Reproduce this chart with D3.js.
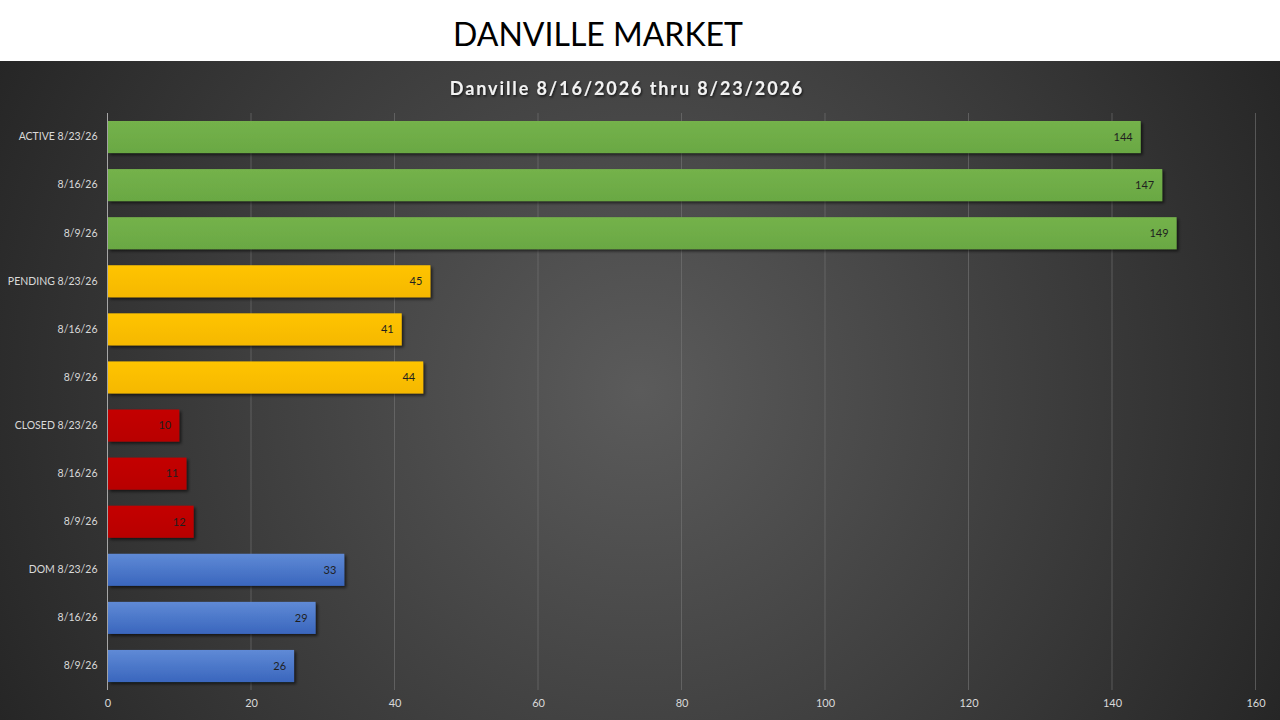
<!DOCTYPE html>
<html lang="en">
<head>
<meta charset="UTF-8">
<title>Danville Market</title>
<style>
  * { margin: 0; padding: 0; }
  body { background: #fff; width: 1280px; height: 720px; overflow: hidden; }
  svg { display: block; font-family: Lato, "Open Sans", sans-serif; }
</style>
</head>
<body>
<div id="chart"></div>
<script src="https://cdn.jsdelivr.net/npm/d3@7"></script>
<script>
  // data
  const labels = ['ACTIVE 8/23/26', '8/16/26', '8/9/26',
    'PENDING 8/23/26', '8/16/26', '8/9/26',
    'CLOSED 8/23/26', '8/16/26', '8/9/26',
    'DOM 8/23/26', '8/16/26', '8/9/26']
  const values = [144, 147, 149, 45, 41, 44, 10, 11, 12, 33, 29, 26]
  const groups = ['active', 'active', 'active', 'pending', 'pending', 'pending',
    'closed', 'closed', 'closed', 'dom', 'dom', 'dom']
  const xTicks = [0, 20, 40, 60, 80, 100, 120, 140, 160]

  const W = 1280, H = 720
  const PANEL_TOP = 61
  const MARGIN = {LEFT: 108, RIGHT: 24, TOP: 113, BOTTOM: 30}

  const svg = d3.select('#chart').append('svg')
    .attr('width', W).attr('height', H)

  const defs = svg.append('defs')
  const bg = defs.append('radialGradient').attr('id', 'bg')
    .attr('gradientUnits', 'userSpaceOnUse')
    .attr('cx', 640).attr('cy', 390).attr('r', 720)
  bg.append('stop').attr('offset', '0%').attr('stop-color', '#5b5b5b')
  bg.append('stop').attr('offset', '100%').attr('stop-color', '#262626')

  const colorMap = {
    active: ['#74b24b', '#6aa843'],
    pending: ['#ffc405', '#f5b800'],
    closed: ['#c40000', '#b80000'],
    dom: ['#5f8ad6', '#3a66bd']
  }
  Object.keys(colorMap).forEach(k => {
    const lg = defs.append('linearGradient').attr('id', 'g-' + k)
      .attr('x1', 0).attr('y1', 0).attr('x2', 0).attr('y2', 1)
    lg.append('stop').attr('offset', '0%').attr('stop-color', colorMap[k][0])
    lg.append('stop').attr('offset', '100%').attr('stop-color', colorMap[k][1])
  })

  const shadow = defs.append('filter').attr('id', 'shadow')
    .attr('x', '-5%').attr('y', '-20%').attr('width', '115%').attr('height', '160%')
  shadow.append('feDropShadow').attr('dx', 2).attr('dy', 2).attr('stdDeviation', 1.5)
    .attr('flood-color', '#000').attr('flood-opacity', 0.6)

  const tShadow = defs.append('filter').attr('id', 'tshadow')
  tShadow.append('feDropShadow').attr('dx', 1).attr('dy', 1.5).attr('stdDeviation', 1)
    .attr('flood-color', '#000').attr('flood-opacity', 0.7)

  // white header
  svg.append('rect').attr('width', W).attr('height', PANEL_TOP).attr('fill', '#fff')
  svg.append('text')
    .attr('x', 598).attr('y', 46)
    .attr('text-anchor', 'middle')
    .attr('font-size', '32px')
    .attr('font-weight', 400)
    .attr('fill', '#000')
    .text('DANVILLE MARKET')

  // dark panel
  svg.append('rect').attr('y', PANEL_TOP).attr('width', W).attr('height', H - PANEL_TOP)
    .attr('fill', 'url(#bg)')

  svg.append('text')
    .attr('x', 627).attr('y', 95)
    .attr('text-anchor', 'middle')
    .attr('font-size', '18px')
    .attr('font-weight', 700)
    .attr('letter-spacing', '1.9px')
    .attr('fill', '#f2f2f2')
    .attr('filter', 'url(#tshadow)')
    .text('Danville 8/16/2026 thru 8/23/2026')

  const plotBottom = 690
  const x = d3.scaleLinear().domain([0, 160]).range([MARGIN.LEFT - 0.5, 1255.5])
  const idx = d3.range(labels.length)
  const y = d3.scaleBand().domain(idx).range([MARGIN.TOP, plotBottom])
    .paddingInner(0.333).paddingOuter(0.166)

  // grid
  svg.append('g').selectAll('line').data(xTicks.slice(1)).join('line')
    .attr('x1', d => x(d)).attr('x2', d => x(d))
    .attr('y1', MARGIN.TOP).attr('y2', plotBottom)
    .attr('stroke', '#767676').attr('stroke-width', 1).attr('stroke-opacity', 0.6)

  // x axis
  const xAxis = svg.append('g')
    .attr('transform', `translate(0, ${plotBottom})`)
    .call(d3.axisBottom(x).tickValues(xTicks).tickSize(0).tickPadding(9))
  xAxis.select('.domain').remove()
  xAxis.selectAll('text').attr('fill', '#d9d9d9').attr('font-size', '11px')
    .attr('font-family', 'Lato, "Open Sans", sans-serif')

  // y axis
  const yAxis = svg.append('g')
    .attr('transform', `translate(${x(0)}, 0)`)
    .call(d3.axisLeft(y).tickFormat(i => labels[i]).tickSize(0).tickPadding(10))
  yAxis.select('.domain').remove()
  yAxis.selectAll('text').attr('fill', '#d9d9d9').attr('font-size', '10.5px')
    .attr('font-family', 'Lato, "Open Sans", sans-serif')

  svg.append('line')
    .attr('x1', x(0)).attr('x2', x(0))
    .attr('y1', MARGIN.TOP).attr('y2', plotBottom)
    .attr('stroke', '#a6a6a6').attr('stroke-width', 1)

  // bars
  svg.append('g').selectAll('rect').data(idx).join('rect')
    .attr('x', x(0) + 0.5)
    .attr('y', i => y(i))
    .attr('width', i => x(values[i]) - x(0) - 0.5)
    .attr('height', y.bandwidth())
    .attr('fill', i => `url(#g-${groups[i]})`)
    .attr('filter', 'url(#shadow)')

  // value labels
  svg.append('g').selectAll('text').data(idx).join('text')
    .attr('x', i => x(values[i]) - 8)
    .attr('y', i => y(i) + y.bandwidth() / 2)
    .attr('dy', '0.35em')
    .attr('text-anchor', 'end')
    .attr('font-size', '11px')
    .attr('fill', '#1f1f1f')
    .text(i => values[i])
</script>
</body>
</html>
